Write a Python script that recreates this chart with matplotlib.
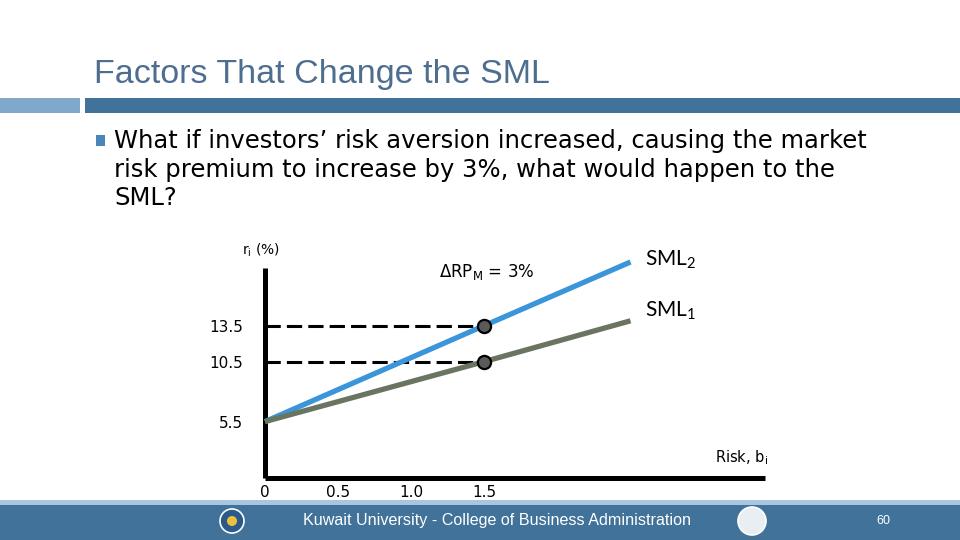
import matplotlib
matplotlib.use("Agg")
import matplotlib.pyplot as plt
from matplotlib.patches import Rectangle, Circle

# slide text
title = "Factors That Change the SML"
bullet_lines = [
    "What if investors\u2019 risk aversion increased, causing the market",
    "risk premium to increase by 3%, what would happen to the",
    "SML?",
]
footer = "Kuwait University - College of Business Administration"
page_no = "60"

# chart values
beta = [0.0, 1.5, 2.5]
sml1 = [5.5, 10.5, 13.9]
sml2 = [5.5, 13.5, 18.8]
beta_m = 1.5
r_m = [13.5, 10.5]
xticks = [0, 0.5, 1.0, 1.5]
xtick_labels = ["0", "0.5", "1.0", "1.5"]
yticks = [5.5, 10.5, 13.5]
ytick_labels = ["5.5", "10.5", "13.5"]

plt.rcParams["mathtext.default"] = "regular"

fig = plt.figure(figsize=(9.6, 5.4), dpi=100)

# background layer in pixel coordinates
bg = fig.add_axes([0, 0, 1, 1], zorder=0)
bg.set_xlim(0, 960)
bg.set_ylim(540, 0)
bg.axis("off")

bg.text(94, 74, title, fontsize=24.5, color="#4d6e8e", va="center", ha="left",
        family="Liberation Sans")
bg.add_patch(Rectangle((0, 98), 80, 15, color="#7fa8cb", lw=0))
bg.add_patch(Rectangle((85, 98), 875, 15, color="#41729a", lw=0))

bg.add_patch(Rectangle((96, 135), 9, 11, color="#4a86b8", lw=0))
for i, line in enumerate(bullet_lines):
    bg.text(114, 141 + i * 28.5, line, fontsize=17.5, color="black",
            va="center", ha="left", family="DejaVu Sans")

bg.add_patch(Rectangle((0, 500), 960, 6, color="#a9c5df", lw=0))
bg.add_patch(Rectangle((0, 505), 960, 35, color="#41729a", lw=0))
bg.text(497, 521, footer, fontsize=11.6, color="white", va="center", ha="center",
        family="Liberation Sans")
bg.text(883, 521, page_no, fontsize=9, color="white", va="center", ha="center",
        family="Liberation Sans")
bg.add_patch(Circle((232, 521), 12, facecolor="#2b5a8a", edgecolor="white", lw=1.2))
bg.add_patch(Circle((232, 521), 5, facecolor="#e8c23a", lw=0))
bg.add_patch(Circle((752, 521), 14, facecolor="#e9eef3", edgecolor="white", lw=1.2))

# chart axes
ax = fig.add_axes([265 / 960, (540 - 478) / 540, 500 / 960, 210 / 540], zorder=1)
ax.patch.set_alpha(0)
ax.set_xlim(0, 3.42)
ax.set_ylim(0.8, 18.3)
for s in ["top", "right"]:
    ax.spines[s].set_visible(False)
for s in ["left", "bottom"]:
    ax.spines[s].set_linewidth(3.6)
    ax.spines[s].set_color("black")
    ax.spines[s].set_capstyle("butt")

ax.plot(beta, sml2, color="#3a96d8", lw=3.8, solid_capstyle="butt", zorder=3,
        clip_on=False)
ax.plot(beta, sml1, color="#6a7561", lw=3.8, solid_capstyle="butt", zorder=3,
        clip_on=False)
for v in r_m:
    ax.plot([0, beta_m], [v, v], color="black", lw=2.2, ls=(0, (5, 2)), zorder=2)
ax.scatter([beta_m] * len(r_m), r_m, s=90, facecolor="#5a5a5a", edgecolor="black",
           lw=1.6, zorder=4)

ax.set_xticks(xticks, xtick_labels)
ax.set_yticks(yticks, ytick_labels)
ax.tick_params(length=0, labelsize=11)
ax.tick_params(axis="x", pad=5)
ax.tick_params(axis="y", pad=16)

ax.text(-0.16, 19.8, "r$_i$ (%)", fontsize=10, ha="left", va="center",
        family="DejaVu Sans", clip_on=False)
ax.text(1.19, 18.0, "\u0394RP$_M$ = 3%", fontsize=12, ha="left", va="center",
        family="DejaVu Sans", clip_on=False)
ax.text(2.6, 19.0, "SML$_2$", fontsize=15, ha="left", va="center", family="Lato",
        clip_on=False)
ax.text(2.6, 14.7, "SML$_1$", fontsize=15, ha="left", va="center", family="Lato",
        clip_on=False)
ax.text(3.08, 2.5, "Risk, b$_i$", fontsize=10.5, ha="left", va="center",
        family="DejaVu Sans", clip_on=False)

fig.savefig("out.png", dpi=100)
